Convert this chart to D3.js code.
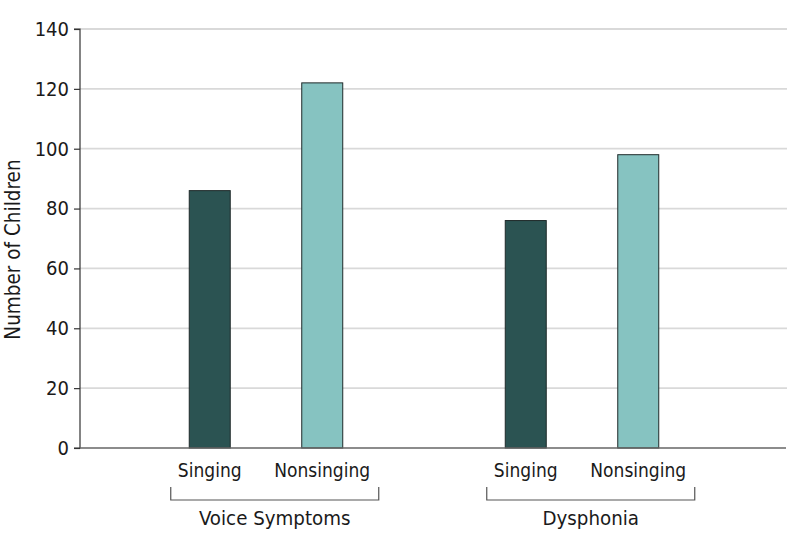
<!DOCTYPE html>
<html>
<head>
<meta charset="utf-8">
<script src="https://cdn.jsdelivr.net/npm/d3@7"></script>
<style>
  html, body { margin: 0; padding: 0; background: #fff; }
  svg text { font-family: "DejaVu Sans Condensed", "DejaVu Sans", sans-serif; font-stretch: condensed; fill: #1a1a1a; }
</style>
</head>
<body>
<svg id="chart" width="798" height="546"></svg>
<script>
const groups = ["Voice Symptoms", "Dysphonia"];
const subgroups = ["Singing", "Nonsinging"];
const singingValues = [86, 76];
const nonsingingValues = [122, 98];
const yTicks = [0, 20, 40, 60, 80, 100, 120, 140];
const yLabel = "Number of Children";
const colors = { "Singing": "#2b5352", "Nonsinging": "#86c3c1" };

const data = groups.map((g, i) => ({
  group: g,
  values: [
    { key: "Singing", value: singingValues[i] },
    { key: "Nonsinging", value: nonsingingValues[i] }
  ]
}));

const svg = d3.select("#chart");
const mLeft = 80, mRight = 786, mTop = 29, mBottom = 448;
const fs = 19;
const ff = '"DejaVu Sans Condensed", "DejaVu Sans", sans-serif';

const y = d3.scaleLinear().domain([0, 140]).range([mBottom, mTop]);
const x0 = d3.scaleBand().domain(groups).range([153.5, 694.5]).paddingInner(0.288).paddingOuter(0);
const x1 = d3.scaleBand().domain(subgroups).range([0, x0.bandwidth()]).paddingInner(0.6356).paddingOuter(0.3178);

// gridlines
svg.append("g").selectAll("line").data(yTicks.filter(d => d > 0)).join("line")
  .attr("x1", mLeft).attr("x2", mRight + 1)
  .attr("y1", d => y(d)).attr("y2", d => y(d))
  .attr("stroke", "#d9d9d9").attr("stroke-width", 1.8);

// y axis
const yAxis = svg.append("g").attr("transform", `translate(${mLeft},0)`)
  .call(d3.axisLeft(y).tickValues(yTicks).tickSize(6).tickPadding(5));
yAxis.select(".domain").attr("stroke", "#333").attr("stroke-width", 1.2).attr("d", `M-6,${mTop}H0V${mBottom}H-6`);
yAxis.selectAll(".tick line").attr("stroke", "#333").attr("stroke-width", 1.2);
yAxis.selectAll(".tick text").attr("font-size", 20).attr("fill", "#1a1a1a")
  .style("font-family", ff).style("font-stretch", "condensed");

// bars
const gGroups = svg.append("g").selectAll("g").data(data).join("g")
  .attr("transform", d => `translate(${x0(d.group)},0)`);
gGroups.selectAll("rect").data(d => d.values).join("rect")
  .attr("x", d => x1(d.key)).attr("width", x1.bandwidth())
  .attr("y", d => y(d.value)).attr("height", d => y(0) - y(d.value))
  .attr("fill", d => colors[d.key])
  .attr("stroke", "#1f2a2a").attr("stroke-width", 1);

// baseline
svg.append("line").attr("x1", mLeft).attr("x2", mRight)
  .attr("y1", mBottom).attr("y2", mBottom)
  .attr("stroke", "#666").attr("stroke-width", 1.5);

// sub-category labels
gGroups.selectAll("text.sub").data(d => d.values).join("text")
  .attr("class", "sub")
  .attr("x", d => x1(d.key) + x1.bandwidth() / 2)
  .attr("y", 477)
  .attr("text-anchor", "middle").attr("font-size", fs)
  .text(d => d.key);

// brackets
const bA = () => x1("Singing") + x1.bandwidth() / 2 - 39;
const bB = () => x1("Nonsinging") + x1.bandwidth() / 2 + 56.5;
gGroups.append("path")
  .attr("d", `M${bA()},487V500H${bB()}V487`)
  .attr("fill", "none").attr("stroke", "#555").attr("stroke-width", 1.2);

gGroups.append("text")
  .attr("x", (bA() + bB()) / 2)
  .attr("y", 525)
  .attr("text-anchor", "middle").attr("font-size", 20.3)
  .text(d => d.group);

// y label
svg.append("text")
  .attr("transform", `translate(20,${(mTop + mBottom) / 2 + 11}) rotate(-90)`)
  .attr("text-anchor", "middle").attr("font-size", 20.5)
  .text(yLabel);
</script>
</body>
</html>
